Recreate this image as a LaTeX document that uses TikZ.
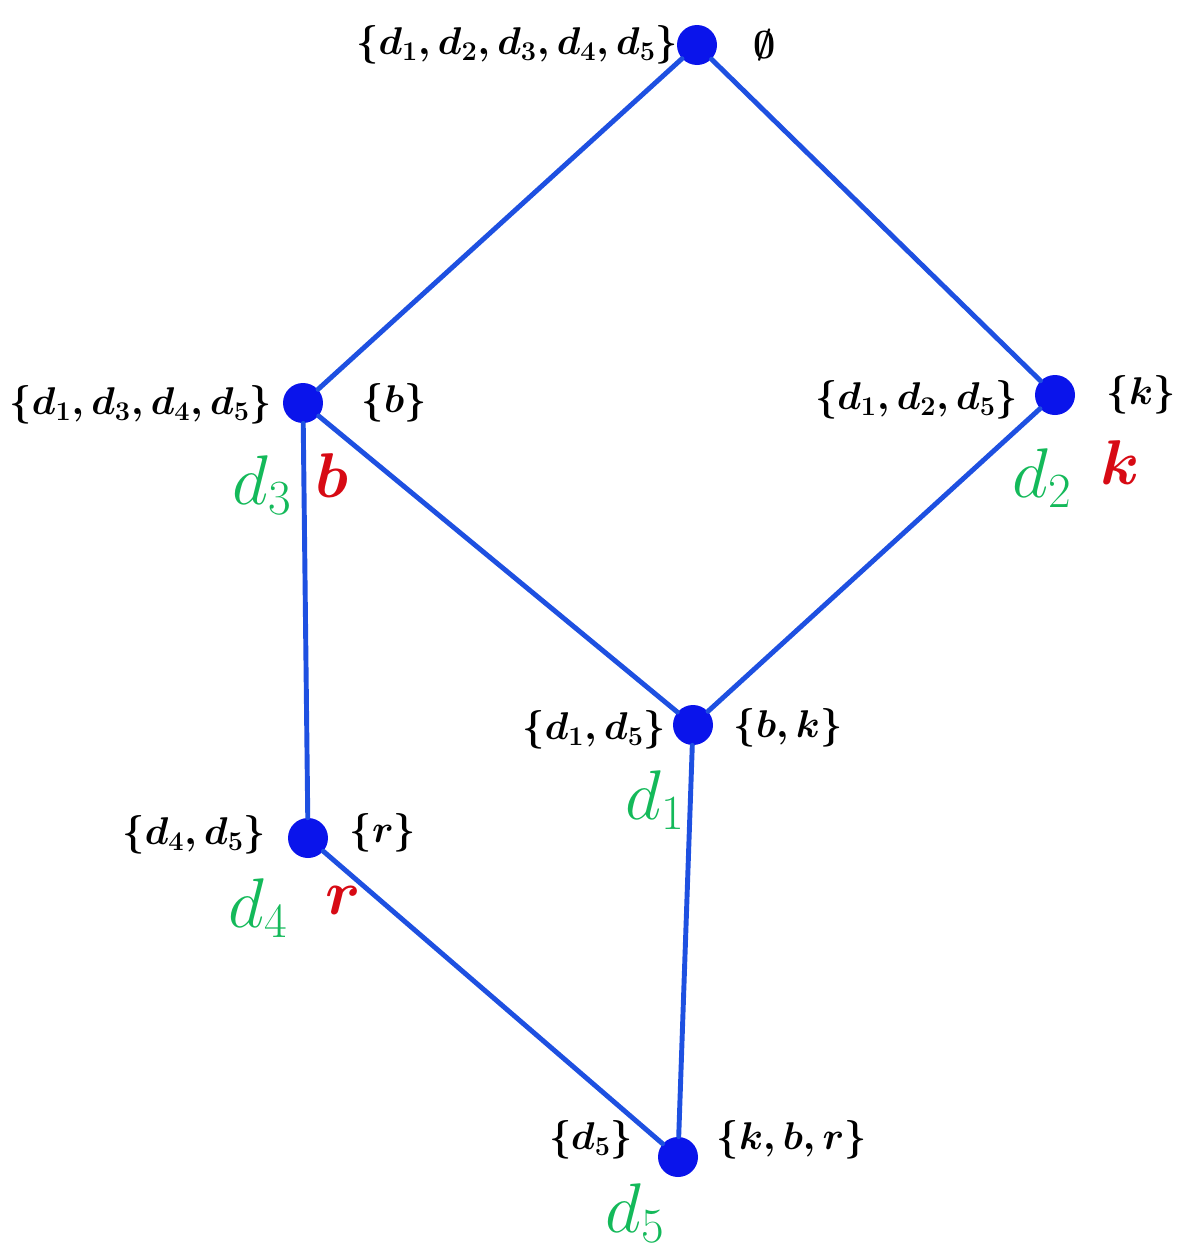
\RequirePackage{fix-cm}
\documentclass[tikz,border=0pt]{standalone}
\usepackage{amsmath,amssymb}
\definecolor{dotblue}{RGB}{10,20,235}
\definecolor{lineblue}{RGB}{30,80,225}
\definecolor{extgreen}{RGB}{20,185,90}
\definecolor{intred}{RGB}{215,10,20}
\begin{document}
\begin{tikzpicture}[
    x=0.02cm, y=-0.02cm,
    concept/.style={
        circle,
        fill=dotblue,
        inner sep=0pt,
        minimum size=0.8cm
    },
    edge/.style={lineblue, line width=2.8pt, line cap=round},
    extent/.style={font=\fontsize{22}{26}\selectfont\boldmath, inner sep=2pt},
    objlab/.style={text=extgreen, font=\fontsize{40}{44}\selectfont, inner sep=0pt},
    attlab/.style={text=intred, font=\fontsize{36}{40}\selectfont, inner sep=0pt}
]
\useasboundingbox (0,0) rectangle (1202,1255);

% Concepts
\node[concept] (top) at (697,  45) {};
\node[concept] (nb)  at (303, 403) {};
\node[concept] (nk)  at (1055,395) {};
\node[concept] (nbk) at (693, 725) {};
\node[concept] (nr)  at (308, 838) {};
\node[concept] (bot) at (678,1157) {};

% Lattice edges
\draw[edge] (top) -- (nb);
\draw[edge] (top) -- (nk);
\draw[edge] (nb)  -- (nbk);
\draw[edge] (nk)  -- (nbk);
\draw[edge] (nb)  -- (nr);
\draw[edge] (nbk) -- (bot);
\draw[edge] (nr)  -- (bot);

% Extents (left) and intents (right)
\node[extent, anchor=east] (top-ext) at (682,  45) {$\{d_1,d_2,d_3,d_4,d_5\}$};
\node[extent, anchor=west] (top-int) at (750,  45) {$\emptyset$};
\node[extent, anchor=east] (nb-ext)  at (276, 405) {$\{d_1,d_3,d_4,d_5\}$};
\node[extent, anchor=west] (nb-int)  at (358, 403) {$\{b\}$};
\node[extent, anchor=east] (nk-ext)  at (1022,400) {$\{d_1,d_2,d_5\}$};
\node[extent, anchor=west] (nk-int)  at (1103,395) {$\{k\}$};
\node[extent, anchor=east] (nbk-ext) at (670, 730) {$\{d_1,d_5\}$};
\node[extent, anchor=west] (nbk-int) at (730, 728) {$\{b,k\}$};
\node[extent, anchor=east] (nr-ext)  at (270, 835) {$\{d_4,d_5\}$};
\node[extent, anchor=west] (nr-int)  at (346, 833) {$\{r\}$};
\node[extent, anchor=east] (bot-ext) at (637,1140) {$\{d_5\}$};
\node[extent, anchor=west] (bot-int) at (713,1140) {$\{k,b,r\}$};

% Object labels (green) and attribute labels (red)
\node[objlab] (o3) at (262, 485) {$d_3$};
\node[attlab] (a3) at (332, 476) {$\boldsymbol{b}$};
\node[objlab] (o2) at (1042,478) {$d_2$};
\node[attlab] (a2) at (1120,463) {$\boldsymbol{k}$};
\node[objlab] (o1) at (655, 800) {$d_1$};
\node[objlab] (o4) at (258, 908) {$d_4$};
\node[attlab] (a4) at (343, 900) {$\boldsymbol{r}$};
\node[objlab] (o5) at (635,1213) {$d_5$};

\end{tikzpicture}
\end{document}
